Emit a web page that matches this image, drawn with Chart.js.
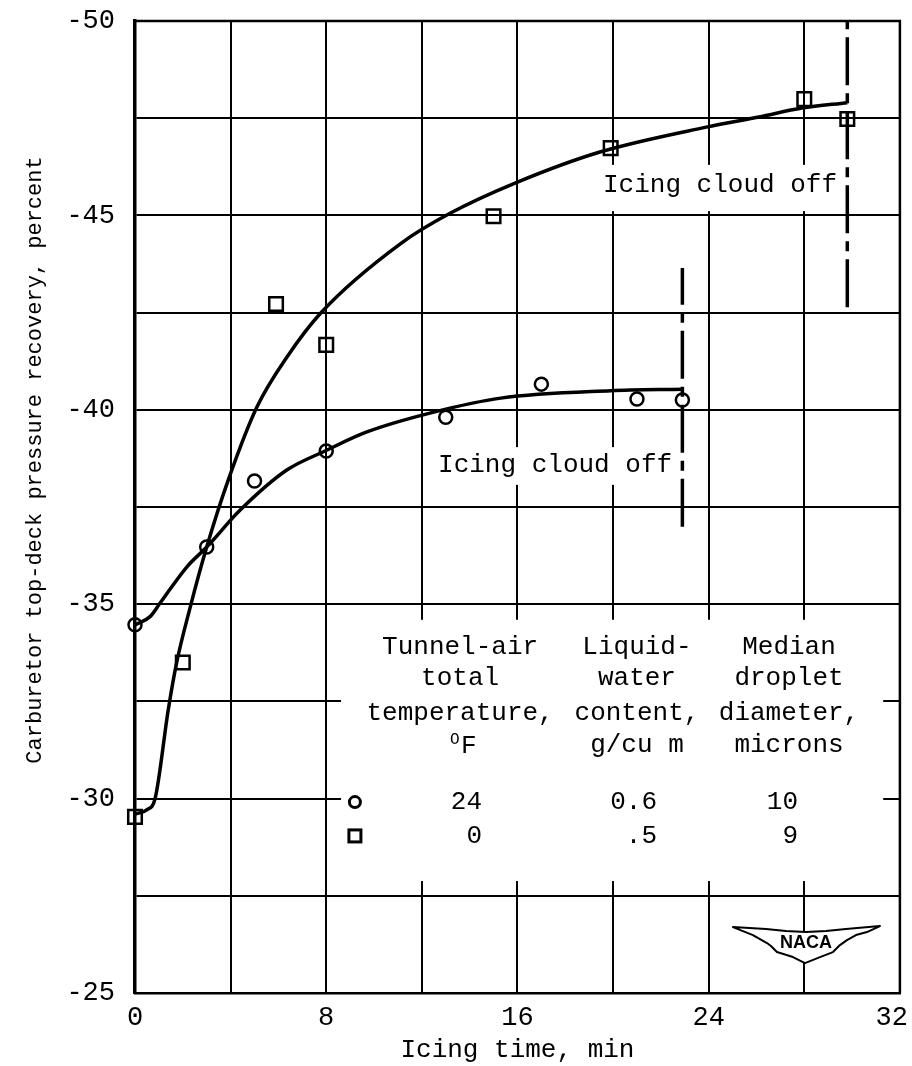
<!DOCTYPE html>
<html>
<head>
<meta charset="utf-8">
<title>Carburetor top-deck pressure recovery</title>
<script src="https://cdn.jsdelivr.net/npm/chart.js@4.4.1/dist/chart.umd.min.js"></script>
<style>
  html, body { margin: 0; padding: 0; background: #fff; }
  #chart { display: block; }
</style>
</head>
<body>
<canvas id="chart" width="912" height="1066"></canvas>
<script>
/* Test points: icing time (min) vs pressure recovery (percent) */
const timeCircle = [0, 3, 5, 8, 13, 17, 21, 22.9];
const recoveryCircle = [-34.47, -36.47, -38.17, -38.94, -39.81, -40.66, -40.28, -40.25];

const timeSquare = [0, 2, 5.9, 8, 15, 19.9, 28, 29.8];
const recoverySquare = [-29.53, -33.5, -42.72, -41.67, -44.98, -46.73, -47.99, -47.48];

/* Faired curves */
const curveTimeCircle = [0, 0.63, 1.05, 1.6, 2.2, 3, 4.4, 6.35, 7.95, 9.7, 12.5, 15.3, 19.9, 22.9];
const curveCircle = [-34.47, -34.68, -35.03, -35.5, -35.98, -36.47, -37.42, -38.45, -38.94, -39.43, -39.94, -40.3, -40.49, -40.53];

const curveTimeSquare = [0, 0.49, 0.84, 1.39, 1.74, 2.3, 3, 3.9, 5.1, 6.36, 7.8, 11.1, 13.2, 15.9, 19.45, 23.9, 26.1, 27.9, 29.8];
const curveSquare = [-29.6, -29.71, -30.0, -32.28, -33.49, -34.9, -36.47, -38.19, -40.07, -41.36, -42.51, -44.27, -45.06, -45.83, -46.63, -47.27, -47.53, -47.76, -47.9];

/* Icing cloud shut off */
const cloudOffTime = [22.9, 29.8];
const cloudOffLow = [-36.99, -42.64];
const cloudOffHigh = [-43.65, -50];

/* Test conditions table */
const condHeads = [
  ["Tunnel-air", "total", "temperature,", ""],
  ["Liquid-", "water", "content,", "g/cu m"],
  ["Median", "droplet", "diameter,", "microns"]
];
const condCircle = ["24", "0.6", "10"];
const condSquare = ["0", ".5", "9"];

const xTicks = [0, 8, 16, 24, 32];
const yTicks = [-50, -45, -40, -35, -30, -25];

const mono = '"Liberation Mono", "DejaVu Sans Mono", monospace';

function pts(xs, ys) {
  return xs.map((x, i) => ({ x: x, y: ys[i] }));
}

/* [x0, y0, x1, y1] in axis units: spots where the grid is left blank */
const blanks = [
  [8.62, -34.6, 31.3, -27.88],
  [19.37, -46.3, 29.5, -45.11],
  [12.43, -39.04, 22.64, -38.07]
];

const paper = {
  id: "paper",
  beforeDatasetsDraw(chart) {
    const { ctx, chartArea: a, scales: { x, y } } = chart;
    const X = v => x.getPixelForValue(v), Y = v => y.getPixelForValue(v);
    ctx.save();
    ctx.fillStyle = "#fff";
    blanks.forEach(b => {
      ctx.fillRect(X(b[0]), Y(b[1]), X(b[2]) - X(b[0]), Y(b[3]) - Y(b[1]));
    });
    // top and right edges of the frame
    ctx.strokeStyle = "#000";
    ctx.lineWidth = 2.5;
    ctx.beginPath();
    ctx.moveTo(a.left, a.top);
    ctx.lineTo(a.right, a.top);
    ctx.lineTo(a.right, a.bottom);
    ctx.stroke();

    // x tick labels, kept inside the canvas
    ctx.fillStyle = "#000";
    ctx.font = "27px " + mono;
    ctx.textAlign = "center";
    ctx.textBaseline = "middle";
    xTicks.forEach(v => {
      const t = String(v);
      const half = ctx.measureText(t).width / 2;
      const px = Math.min(X(v), chart.width - half - 4);
      ctx.fillText(t, px, a.bottom + 25);
    });
    ctx.restore();
  },
  afterDatasetsDraw(chart) {
    const { ctx, scales: { x, y } } = chart;
    const X = v => x.getPixelForValue(v), Y = v => y.getPixelForValue(v);
    ctx.save();
    ctx.fillStyle = "#000";
    ctx.strokeStyle = "#000";
    ctx.font = "26px " + mono;
    ctx.textBaseline = "middle";

    ctx.textAlign = "right";
    ctx.fillText("Icing cloud off", X(29.37), Y(-45.78));
    ctx.fillText("Icing cloud off", X(22.47), Y(-38.58));

    // conditions table
    const colX = [13.6, 21.0, 27.36];
    const rowY = [-33.9, -33.1, -32.2, -31.38];
    ctx.textAlign = "center";
    condHeads.forEach((col, c) => {
      col.forEach((t, r) => ctx.fillText(t, X(colX[c]), Y(rowY[r])));
    });
    // degrees F, with a raised O
    ctx.textAlign = "left";
    ctx.fillText("F", X(colX[0]) + 1, Y(rowY[3]) + 1);
    ctx.font = "16px " + mono;
    ctx.fillText("O", X(colX[0]) - 10, Y(rowY[3]) - 5);
    ctx.font = "26px " + mono;

    const numX = [14.52, 21.84, 27.74];
    ctx.textAlign = "right";
    condCircle.forEach((t, i) => ctx.fillText(t, X(numX[i]), Y(-29.91)));
    condSquare.forEach((t, i) => ctx.fillText(t, X(numX[i]), Y(-29.04)));

    ctx.lineWidth = 3;
    ctx.beginPath();
    ctx.arc(X(9.2), Y(-29.91), 5.5, 0, Math.PI * 2);
    ctx.stroke();
    ctx.strokeRect(X(9.2) - 6, Y(-29.04) - 6, 12, 12);

    // NACA wings
    const cx = X(28.07), cy = Y(-26.31);
    const wing = [
      [-73, -15], [-40, -13], [-20, -11], [0, -10], [20, -11], [40, -13], [74, -16],
      [61, -10], [50, -7], [41, -2], [34, 3], [27, 10], [14, 15], [-1, 21],
      [-13, 15], [-29, 10], [-35, 4], [-39, 1], [-46, -3], [-53, -7], [-63, -11]
    ];
    ctx.beginPath();
    wing.forEach((p, i) => i ? ctx.lineTo(cx + p[0], cy + p[1]) : ctx.moveTo(cx + p[0], cy + p[1]));
    ctx.closePath();
    ctx.fillStyle = "#fff";
    ctx.fill();
    ctx.lineWidth = 2;
    ctx.lineJoin = "round";
    ctx.stroke();
    ctx.fillStyle = "#000";
    ctx.textAlign = "center";
    ctx.font = "bold 18px 'Liberation Sans', Arial, sans-serif";
    ctx.fillText("NACA", cx, cy + 1);

    ctx.restore();
  },
  afterDraw(chart) {
    const { ctx, chartArea: a } = chart;
    ctx.save();
    ctx.translate(35, (a.top + a.bottom) / 2 - 47);
    ctx.rotate(-Math.PI / 2);
    ctx.font = "22px " + mono;
    ctx.fillStyle = "#000";
    ctx.textAlign = "center";
    ctx.textBaseline = "middle";
    ctx.fillText("Carburetor top-deck pressure recovery, percent", 0, 0);
    ctx.restore();
  }
};

const markers = {
  showLine: false,
  clip: false,
  pointBorderColor: "#000",
  pointBackgroundColor: "rgba(0,0,0,0)",
  pointBorderWidth: 2.5
};

new Chart(document.getElementById("chart"), {
  type: "line",
  data: {
    datasets: [
      {
        data: pts(curveTimeSquare, curveSquare),
        borderColor: "#000", borderWidth: 3.5, pointRadius: 0, clip: false,
        cubicInterpolationMode: "monotone"
      },
      {
        data: pts(curveTimeCircle, curveCircle),
        borderColor: "#000", borderWidth: 3.5, pointRadius: 0, clip: false,
        cubicInterpolationMode: "monotone"
      },
      ...cloudOffTime.map((t, i) => ({
        data: [{ x: t, y: cloudOffLow[i] }, { x: t, y: cloudOffHigh[i] }],
        borderColor: "#000", borderWidth: 3.5, pointRadius: 0,
        borderDash: [48, 8, 10, 8], borderCapStyle: "butt"
      })),
      Object.assign({ data: pts(timeCircle, recoveryCircle), pointStyle: "circle", pointRadius: 6.5 }, markers),
      Object.assign({ data: pts(timeSquare, recoverySquare), pointStyle: "rect", pointRadius: 9.6 }, markers)
    ]
  },
  options: {
    responsive: false,
    animation: false,
    devicePixelRatio: 1,
    layout: { padding: { top: 21, right: 12, left: 0, bottom: 0 } },
    plugins: { legend: { display: false }, tooltip: { enabled: false } },
    scales: {
      x: {
        type: "linear",
        min: 0, max: 32,
        ticks: {
          stepSize: 4,
          padding: 10,
          font: { family: mono, size: 27 },
          callback: () => ""
        },
        grid: { color: "#000", lineWidth: 2, drawTicks: false },
        border: { color: "#000", width: 2.5 },
        title: {
          display: true,
          text: "Icing time, min",
          color: "#000",
          font: { family: mono, size: 26 },
          padding: { top: 0, bottom: 0 }
        },
        afterFit(scale) {
          scale.height = 73;
          scale.paddingLeft = 0;
          scale.paddingRight = 0;
        }
      },
      y: {
        type: "linear",
        min: -50, max: -25,
        reverse: true,
        ticks: {
          stepSize: 2.5,
          padding: 20,
          color: "#000",
          font: { family: mono, size: 27 },
          callback: v => yTicks.includes(v) ? String(v) : ""
        },
        grid: { color: "#000", lineWidth: 2, drawTicks: false },
        border: { color: "#000", width: 3.5 },
        afterFit(scale) {
          scale.width = 135;
          scale.paddingTop = 0;
          scale.paddingBottom = 0;
        }
      }
    }
  },
  plugins: [paper]
});
</script>
</body>
</html>
